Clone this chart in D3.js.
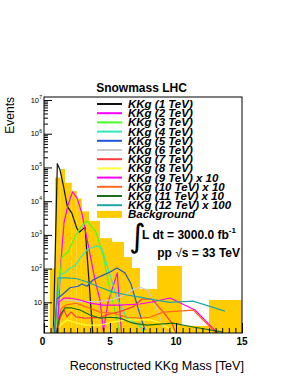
<!DOCTYPE html>
<html><head><meta charset="utf-8">
<script src="https://cdn.jsdelivr.net/npm/d3@7"></script>
<style>
html,body{margin:0;padding:0;background:#fff;}
svg text{font-family:"Liberation Sans",Arial,Helvetica,sans-serif;}
</style></head>
<body>
<svg id="c" width="291" height="376"></svg>
<script>
// ---- data (x in TeV, value in events) ----
const bgEdges = [0.45,0.83,1.27,1.59,2.1,2.48,2.86,3.41,4.24,5.15,6.06,6.67,7.27,8.56,10.45,12.5,15];
const bgValues = [100,50000,90000,35000,20000,12000,5000,2600,800,620,220,104,25,120,2,11.7];

const kk1  = [[0.70,0.8],[1.01,130000],[1.21,85000],[1.46,30000],[1.77,6900],[2.10,4500],[2.48,1600],[2.67,1200],[3.11,1700],[3.73,0.8]];
const kk2  = [[0.98,0.8],[1.29,180],[1.52,2400],[1.82,7700],[2.16,19000],[2.50,12500],[2.86,4500],[3.23,870],[3.86,46],[4.24,11.7],[4.50,1.4],[4.85,10],[5.55,75],[5.90,0.8]];
const kk3  = [[0.68,0.8],[1.06,16.5],[1.36,221],[1.82,311],[2.35,867],[2.80,1715],[3.26,2580],[3.94,1220],[4.47,253],[5.00,23],[5.53,3],[5.83,0.8]];
const kk4  = [[0.68,0.8],[0.98,9.5],[1.29,69],[1.59,74],[1.97,104],[2.35,120],[2.80,221],[3.33,382],[4.02,469],[4.39,382],[5.00,65],[5.53,13.4],[6.29,3.4],[7.27,2.0],[7.88,0.8]];
const kk5  = [[0.76,0.8],[0.98,12.5],[1.44,17.6],[1.97,27],[2.58,30],[2.88,35],[3.26,30],[3.71,46],[4.32,60],[5.00,79],[5.53,104],[6.14,74],[6.59,35],[7.12,6.8],[7.65,1.5]];
const kk6  = [[0.91,0.8],[1.21,11.7],[1.67,11.7],[2.73,10.5],[4.24,10.5],[5.00,11.7],[5.76,14.3],[6.67,23],[7.27,28],[7.88,23],[8.26,11.7],[8.64,5.2],[9.02,1.9],[9.24,0.8]];
const kk7  = [[0.98,0.8],[1.21,3.4],[1.52,5.9],[1.74,3.7],[2.05,5.2],[2.42,3.7],[3.11,3.4],[4.24,3.6],[5.00,4.5],[5.76,5.3],[6.74,7.3],[7.42,12.5],[8.18,12.5],[9.02,5.2],[9.70,2.4],[10.15,0.8]];
const kk8  = [[0.83,0.8],[1.21,2.1],[1.74,3.0],[2.50,2.4],[3.26,2.1],[4.24,2.1],[5.23,2.6],[6.29,3.0],[7.27,3.0],[8.03,3.0],[8.64,2.6],[9.70,1.5],[10.3,0.8]];
const kk9  = [[0.98,0.8],[1.14,10.3],[1.52,13.4],[1.97,13.4],[2.73,11.7],[3.48,9.5],[4.47,8.3],[5.76,8.3],[7.27,8.9],[8.18,10.2],[9.55,13.4],[11.44,5.9],[13.6,0.8]];
const kk10 = [[0.98,0.8],[1.29,6.3],[1.67,8.3],[2.42,9.5],[3.18,7.3],[4.24,5.1],[5.23,4.8],[6.29,3.6],[7.27,3.4],[8.03,3.6],[9.02,5.1],[11.3,5.9],[13.5,0.8]];
const kk11 = [[0.83,0.8],[1.21,4.2],[1.59,6.8],[2.12,6.8],[2.73,5.9],[3.48,4.2],[4.24,3.4],[5.00,3.6],[5.76,3.4],[6.74,2.4],[7.80,2.1],[9.77,2.4],[11.29,1.85],[13.56,1.3]];
const kk12 = [[0.83,0.8],[1.06,53],[1.36,53],[1.74,53],[2.50,50],[3.26,40],[4.24,28],[5.23,20],[6.29,16.5],[7.27,14.3],[8.03,12.5],[9.55,9.9],[11.29,10.9],[13.71,5.5]];

const seriesNames = ["KKg (1 TeV)","KKg (2 TeV)","KKg (3 TeV)","KKg (4 TeV)","KKg (5 TeV)","KKg (6 TeV)","KKg (7 TeV)","KKg (8 TeV)","KKg (9 TeV) x 10","KKg (10 TeV) x 10","KKg (11 TeV) x 10","KKg (12 TeV) x 100"];
const seriesColors = ["#111111","#ff00ff","#44ff22","#2ee8c0","#1f55dd","#cccccc","#ff3b3b","#ffff33","#ff00ff","#ff6a1a","#1a6e1a","#20a6a6"];
const bgName = "Background";
const bgColor = "#ffcc00";
const xTicksMajor = [0,5,10,15];
const yDecades = [1,2,3,4,5,6,7];

const series = [kk1,kk2,kk3,kk4,kk5,kk6,kk7,kk8,kk9,kk10,kk11,kk12];

// ---- layout ----
const L=44, R=242, T=97, B=333;
const svg = d3.select("#c");
const x = d3.scaleLinear().domain([0,15]).range([L,R]);
const y = d3.scaleLog().domain([1.23,1.23e7]).range([B,T]);

svg.append("defs").append("clipPath").attr("id","clip")
  .append("rect").attr("x",L).attr("y",T).attr("width",R-L).attr("height",B-T);

const plot = svg.append("g").attr("clip-path","url(#clip)");

// background histogram
const bins = bgValues.map((v,i)=>({x0:bgEdges[i],x1:bgEdges[i+1],v}));
plot.selectAll("rect.bg").data(bins).enter().append("rect")
  .attr("x",d=>x(d.x0)).attr("width",d=>x(d.x1)-x(d.x0))
  .attr("y",d=>y(d.v)).attr("height",d=>B-y(d.v))
  .attr("fill",bgColor);

// signal lines
const line = d3.line().x(d=>x(d[0])).y(d=>y(d[1]));
series.forEach((s,i)=>{
  plot.append("path").attr("d",line(s)).attr("fill","none")
    .attr("stroke",seriesColors[i]).attr("stroke-width",1.2).attr("stroke-linejoin","round");
});

// frame
svg.append("rect").attr("x",L).attr("y",T).attr("width",R-L).attr("height",B-T)
  .attr("fill","none").attr("stroke","#000").attr("stroke-width",1);

// y axis ticks (inward)
const yMinor=[];
for(let d=0; d<=7; d++){ for(let k=2;k<=9;k++){ const v=k*Math.pow(10,d); if(v>=1.23&&v<=1.23e7) yMinor.push(v);} }
svg.append("g").attr("transform",`translate(${L},0)`)
  .call(d3.axisLeft(y).tickValues(yMinor).tickSize(-4).tickFormat(""))
  .call(g=>{g.select(".domain").remove(); g.selectAll("line").attr("stroke","#000");});
svg.append("g").attr("transform",`translate(${L},0)`)
  .call(d3.axisLeft(y).tickValues(yDecades.map(d=>Math.pow(10,d))).tickSize(-8).tickFormat(""))
  .call(g=>{g.select(".domain").remove(); g.selectAll("line").attr("stroke","#000");});

// y labels
yDecades.forEach(d=>{
  svg.append("text").attr("x",d===1?42:39).attr("y",y(Math.pow(10,d))+2.5)
    .attr("text-anchor","end").attr("font-size",7.5).attr("fill","#000").text("10");
  if(d>1){
    svg.append("text").attr("x",39.3).attr("y",y(Math.pow(10,d))-1).attr("font-size",5).text(d);
  }
});

// x axis ticks (inward)
const xMinor=d3.range(0,15.01,0.5);
svg.append("g").attr("transform",`translate(0,${B})`)
  .call(d3.axisBottom(x).tickValues(xMinor).tickSize(-5).tickFormat(""))
  .call(g=>{g.select(".domain").remove(); g.selectAll("line").attr("stroke","#000");});
svg.append("g").attr("transform",`translate(0,${B})`)
  .call(d3.axisBottom(x).tickValues(xTicksMajor).tickSize(-10).tickFormat(""))
  .call(g=>{g.select(".domain").remove(); g.selectAll("line").attr("stroke","#000");});
xTicksMajor.forEach(v=>{
  svg.append("text").attr("x",x(v)-(v===0?1.5:0)).attr("y",345).attr("text-anchor","middle")
    .attr("font-size",10).attr("font-weight","bold").text(v);
});

// axis titles
svg.append("text").attr("x",244).attr("y",370).attr("text-anchor","end")
  .attr("font-size",12.6).text("Reconstructed KKg Mass [TeV]");
svg.append("text").attr("transform","translate(13.5,97) rotate(-90)").attr("text-anchor","end")
  .attr("font-size",12).text("Events");

// title
svg.append("text").attr("x",141.5).attr("y",92).attr("text-anchor","middle")
  .attr("font-size",12).attr("font-weight","bold").text("Snowmass LHC");

// legend
const lg = svg.append("g");
seriesNames.forEach((n,i)=>{
  const cy = 104 + i*9.2;
  lg.append("line").attr("x1",97).attr("x2",122).attr("y1",cy).attr("y2",cy)
    .attr("stroke",seriesColors[i]).attr("stroke-width",2);
  lg.append("text").attr("x",128).attr("y",cy+4).attr("font-size",11.5)
    .attr("font-style","italic").attr("font-weight","bold").text(n);
});
{
  const cy = 104 + 12*9.2;
  lg.append("rect").attr("x",97).attr("y",cy-3.5).attr("width",25).attr("height",7).attr("fill",bgColor);
  lg.append("text").attr("x",128).attr("y",cy+4).attr("font-size",11.5)
    .attr("font-style","italic").attr("font-weight","bold").text(bgName);
}

// luminosity text
svg.append("text").attr("x",129).attr("y",247).attr("font-size",32)
  .style("font-family","DejaVu Sans").style("font-weight","normal").text("∫");
const t1 = svg.append("text").attr("x",142).attr("y",239).attr("font-size",12).attr("font-weight","bold");
t1.append("tspan").text("L dt = 3000.0 fb");
t1.append("tspan").attr("dy",-6).attr("font-size",8).text("-1");
const t2 = svg.append("text").attr("x",240).attr("y",257).attr("text-anchor","end").attr("font-size",12).attr("font-weight","bold");
t2.append("tspan").text("pp ");
t2.append("tspan").attr("font-weight","normal").text("√");
t2.append("tspan").text("s = 33 TeV");
</script>
</body></html>
